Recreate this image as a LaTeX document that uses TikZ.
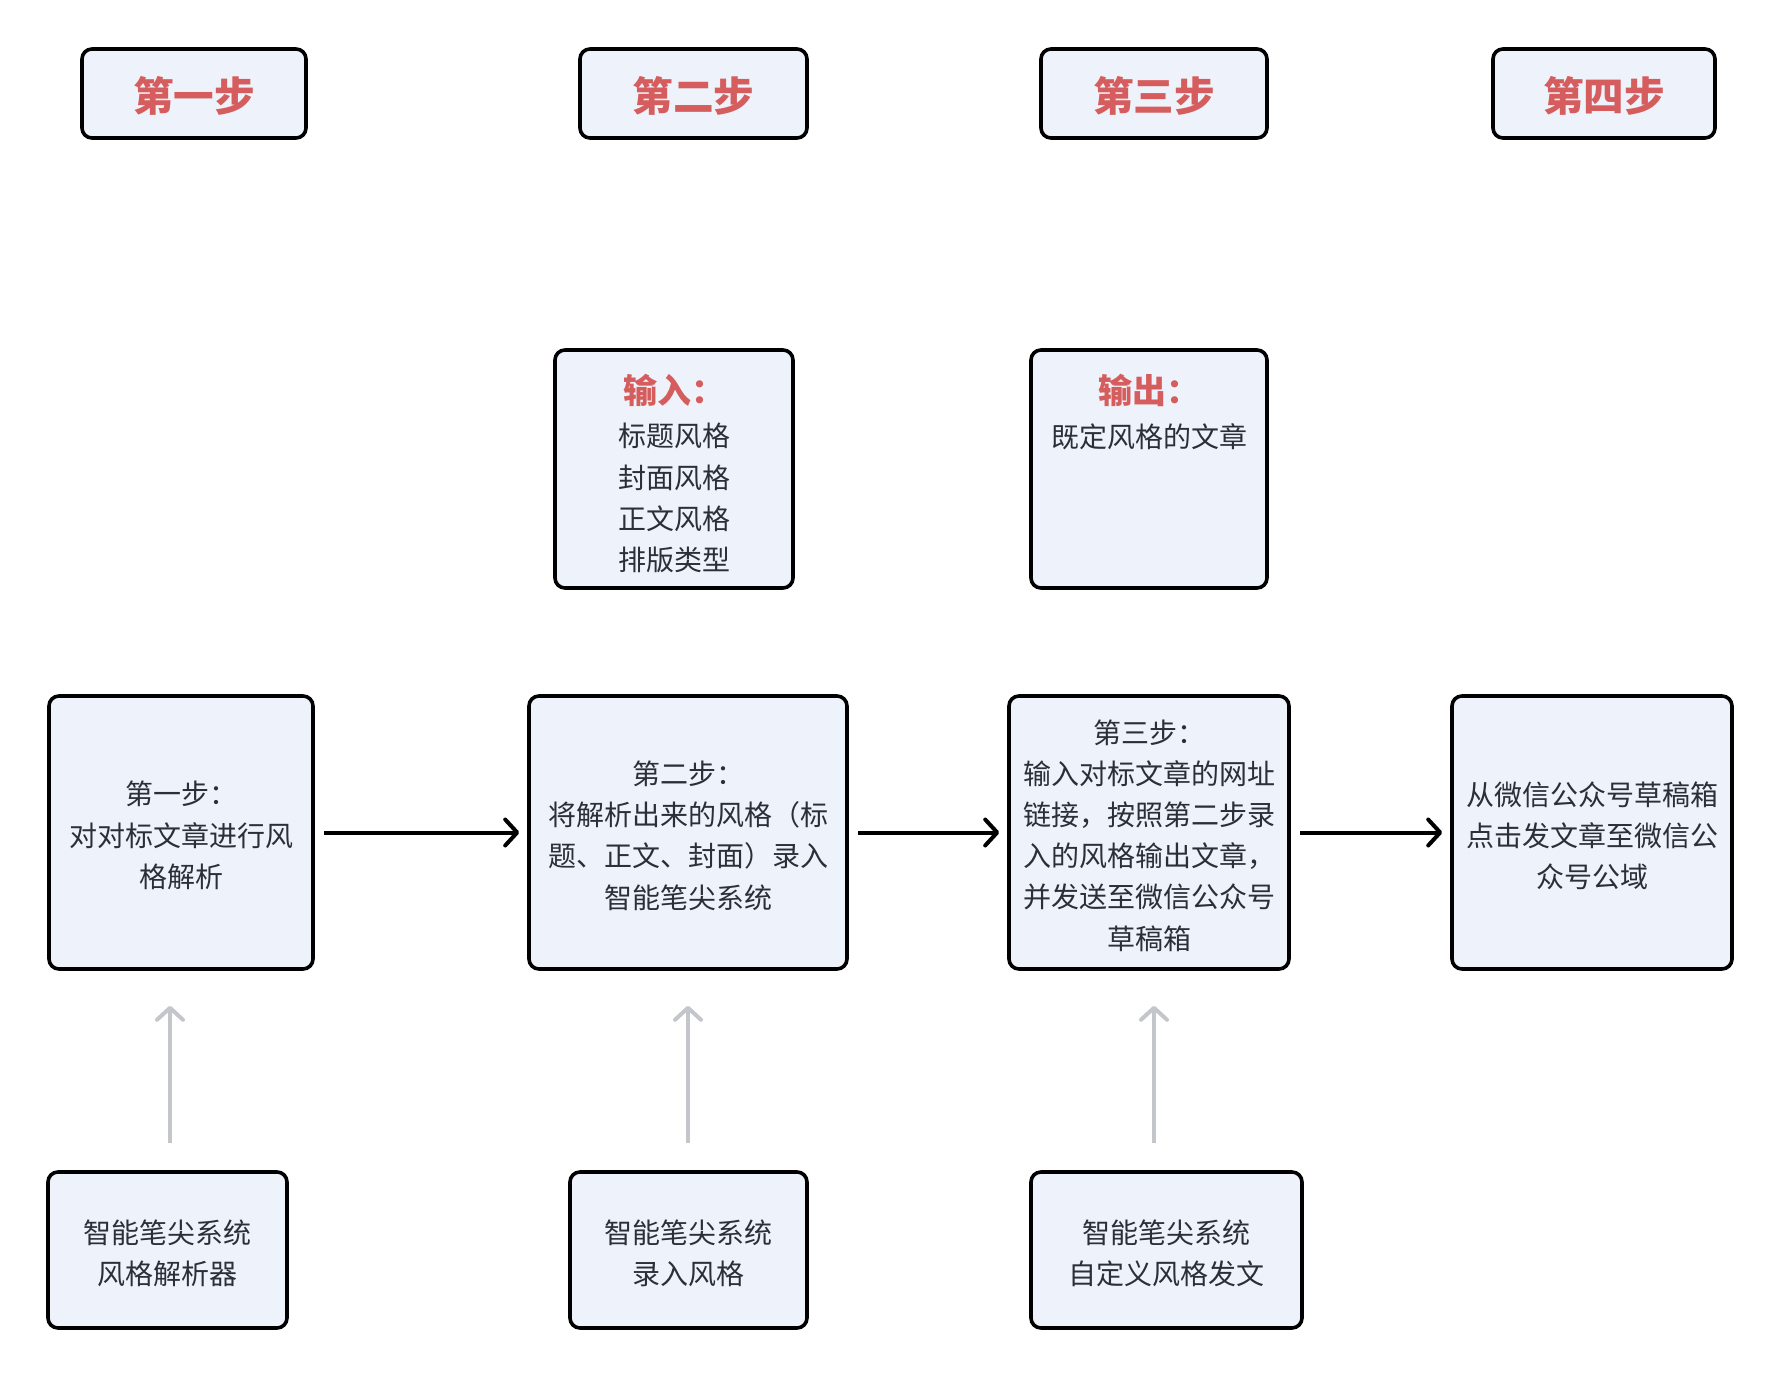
\documentclass[tikz,border=0pt]{standalone}
\usepackage{fontspec}
\setmainfont{Noto Sans CJK SC}
\usetikzlibrary{arrows.meta,calc}
\definecolor{boxfill}{HTML}{EEF3FB}
\definecolor{titlered}{HTML}{D65D5D}
\definecolor{txt}{HTML}{2B2F36}
\definecolor{grayline}{HTML}{C3C6CB}
\begin{document}
\begin{tikzpicture}[x=0.5pt,y=-0.5pt,
  box/.style 2 args={draw=black,line width=1.8pt,fill=boxfill,rounded corners=5pt,inner sep=0pt,
    minimum width=#1*0.5pt,minimum height=#2*0.5pt},
  titletext/.style={text=titlered,font=\fontsize{20.3}{24}\bfseries\selectfont},
  headtext/.style={text=titlered,font=\fontsize{17}{20}\bfseries\selectfont,inner sep=0pt},
  bodytext/.style={text=txt,font=\fontsize{14}{20.6}\selectfont,align=center,inner sep=0pt},
  btext/.style={label={[bodytext,yshift=-1.5pt]center:#1}},
  ttext/.style={label={[titletext,inner sep=0pt,yshift=-1.2pt]center:#1}},
  flow/.style={draw=black,line width=2pt,shorten <=4.5pt,shorten >=4pt,
    -{Straight Barb[length=6pt,width=13pt,line cap=round,line join=round]}},
  feed/.style={draw=grayline,line width=2pt,shorten <=13.5pt,shorten >=17.5pt,
    -{Straight Barb[length=6pt,width=13pt,line cap=round,line join=round]}}]
\path[use as bounding box] (0,0) rectangle (1784,1380);

% top step labels
\node[box={224}{89},ttext={第一步}] (t1) at (194,93.5) {};
\node[box={227}{89},ttext={第二步}] (t2) at (693.5,93.5) {};
\node[box={226}{89},ttext={第三步}] (t3) at (1154,93.5) {};
\node[box={222}{89},ttext={第四步}] (t4) at (1604,93.5) {};

% input / output boxes
\node[box={238}{238}] (in) at (674,469) {};
\node[headtext,anchor=center] (inh) at (674,390) {输入：};
\node[bodytext,anchor=north] (inb) at (674,423) {标题风格\\封面风格\\正文风格\\排版类型};

\node[box={236}{238}] (out) at (1149,469) {};
\node[headtext,anchor=center] (outh) at (1149,390) {输出：};
\node[bodytext,anchor=north] (outb) at (1149,423) {既定风格的文章};

% middle flow
\node[box={264}{273},btext={第一步：\\对对标文章进行风\\格解析}] (m1) at (181,832.5) {};
\node[box={318}{273},btext={第二步：\\将解析出来的风格（标\\题、正文、封面）录入\\智能笔尖系统}] (m2) at (688,832.5) {};
\node[box={280}{273},btext={第三步：\\输入对标文章的网址\\链接，按照第二步录\\入的风格输出文章，\\并发送至微信公众号\\草稿箱}] (m3) at (1149,832.5) {};
\node[box={280}{273},btext={从微信公众号草稿箱\\点击发文章至微信公\\众号公域}] (m4) at (1592,832.5) {};

\draw[flow] (m1) -- (m2);
\draw[flow] (m2) -- (m3);
\draw[flow] (m3) -- (m4);

% bottom systems
\node[box={239}{156},btext={智能笔尖系统\\风格解析器}] (b1) at (167.5,1250) {};
\node[box={237}{156},btext={智能笔尖系统\\录入风格}] (b2) at (688.5,1250) {};
\node[box={271}{156},btext={智能笔尖系统\\自定义风格发文}] (b3) at (1166.5,1250) {};

\coordinate (g1) at (170,1100);
\coordinate (g2) at (688,1100);
\coordinate (g3) at (1154,1100);
\draw[feed] (g1 |- b1.north) -- (g1 |- m1.south);
\draw[feed] (g2 |- b2.north) -- (g2 |- m2.south);
\draw[feed] (g3 |- b3.north) -- (g3 |- m3.south);
\end{tikzpicture}
\end{document}
